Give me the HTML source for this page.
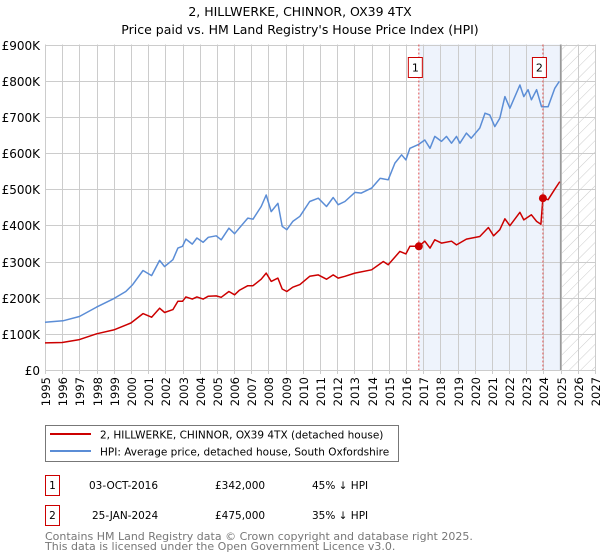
<!DOCTYPE html>
<html><head><meta charset="utf-8">
<style>
body{margin:0;background:#fff;font-family:"Liberation Sans","DejaVu Sans",sans-serif;}
svg{display:block}
</style></head>
<body>
<svg id="chart" width="600" height="560" font-family="DejaVu Sans, Liberation Sans, sans-serif">
  <text x="300" y="16" text-anchor="middle" font-size="12.5" fill="#000">2, HILLWERKE, CHINNOR, OX39 4TX</text>
  <text x="300" y="34" text-anchor="middle" font-size="12.5" fill="#000">Price paid vs. HM Land Registry's House Price Index (HPI)</text>
  <defs>
    <pattern id="hatch" width="8" height="8" patternUnits="userSpaceOnUse" patternTransform="rotate(45)">
      <line x1="0" y1="0" x2="0" y2="8" stroke="#ccc" stroke-width="1"/>
    </pattern>
  </defs>
  <g id="grid"></g>
  <g id="marks"></g>
  <g id="axes"></g>
  <g>
    <rect x="45.5" y="425.5" width="353" height="36" fill="#fff" stroke="#777"/>
    <line x1="50" y1="434" x2="91" y2="434" stroke="#cc0000" stroke-width="2"/>
    <text x="100" y="438.5" font-size="10.5">2, HILLWERKE, CHINNOR, OX39 4TX (detached house)</text>
    <line x1="50" y1="451" x2="91" y2="451" stroke="#5b8dd6" stroke-width="2"/>
    <text x="100" y="455.5" font-size="10.5">HPI: Average price, detached house, South Oxfordshire</text>
  </g>
  <g font-size="10.5">
    <rect x="45.5" y="475.5" width="14" height="20" fill="#fff" stroke="#cc0000"/>
    <text x="52.5" y="489" text-anchor="middle">1</text>
    <text x="89" y="489">03-OCT-2016</text>
    <text x="215" y="489">£342,000</text>
    <text x="312" y="489">45% ↓ HPI</text>
    <rect x="45.5" y="505.5" width="14" height="20" fill="#fff" stroke="#cc0000"/>
    <text x="52.5" y="519" text-anchor="middle">2</text>
    <text x="92" y="519">25-JAN-2024</text>
    <text x="215" y="519">£475,000</text>
    <text x="312" y="519">35% ↓ HPI</text>
  </g>
  <text x="45" y="540" font-size="11" fill="#777">Contains HM Land Registry data © Crown copyright and database right 2025.</text>
  <text x="45" y="550" font-size="11" fill="#777">This data is licensed under the Open Government Licence v3.0.</text>
</svg>
<script>
const hpiYears=[1995.0,1996.05,1997.0,1998.0,1998.95,1999.7,2000.1,2000.7,2001.2,2001.67,2001.96,2002.44,2002.73,2003.0,2003.2,2003.57,2003.84,2004.2,2004.5,2004.96,2005.25,2005.7,2006.03,2006.3,2006.8,2007.1,2007.58,2007.87,2008.16,2008.55,2008.8,2009.07,2009.42,2009.83,2010.4,2010.9,2011.38,2011.77,2012.06,2012.45,2013.03,2013.4,2014.0,2014.5,2014.97,2015.36,2015.75,2016.0,2016.23,2016.71,2017.1,2017.4,2017.68,2018.07,2018.36,2018.65,2018.94,2019.14,2019.52,2019.8,2020.3,2020.6,2020.88,2021.17,2021.46,2021.76,2022.05,2022.63,2022.86,2023.11,2023.3,2023.6,2023.89,2024.27,2024.66,2024.92];
const hpiValues=[132,136,148,174,196,217,236,275,261,303,286,305,337,342,362,348,365,353,367,371,360,392,377,392,420,417,452,484,438,461,397,388,411,425,466,475,452,477,457,466,491,489,503,530,526,572,595,581,613,623,636,613,646,632,646,627,646,627,655,641,669,710,705,673,696,756,724,788,756,775,747,775,728,728,779,798];
const propYears=[1995.0,1996.0,1997.0,1998.0,1999.0,2000.0,2000.7,2001.2,2001.67,2001.96,2002.44,2002.73,2003.0,2003.2,2003.57,2003.84,2004.2,2004.5,2004.96,2005.25,2005.7,2006.03,2006.3,2006.8,2007.1,2007.58,2007.87,2008.16,2008.55,2008.8,2009.07,2009.42,2009.83,2010.4,2010.9,2011.38,2011.77,2012.06,2012.45,2013.03,2014.0,2014.68,2014.97,2015.65,2016.0,2016.23,2016.75,2017.1,2017.4,2017.68,2018.07,2018.65,2018.94,2019.52,2020.3,2020.8,2021.1,2021.46,2021.76,2022.05,2022.63,2022.86,2023.3,2023.6,2023.85,2023.97,2024.27,2024.66,2024.95];
const propValues=[75,76,84,100,111,130,156,146,171,159,167,190,190,202,196,202,196,204,205,201,217,208,220,233,233,251,268,245,254,224,217,229,236,259,263,251,263,254,259,268,277,300,291,328,321,342,342,356,337,360,351,356,346,362,369,394,371,388,418,399,436,415,429,411,403,475,471,500,521];
const saleYears=[2016.75,2023.97];
const saleValues=[342,475];
const saleLabels=["1","2"];
const yTicks=[0,100,200,300,400,500,600,700,800,900];
const yTickLabels=["£0","£100K","£200K","£300K","£400K","£500K","£600K","£700K","£800K","£900K"];
const xTickYears=[1995,1996,1997,1998,1999,2000,2001,2002,2003,2004,2005,2006,2007,2008,2009,2010,2011,2012,2013,2014,2015,2016,2017,2018,2019,2020,2021,2022,2023,2024,2025,2026,2027];

const X0=45,X1=595,Y0=370,Y1=44.5;
const xs=y=>X0+(y-1995)/(2027-1995)*(X1-X0);
const ys=v=>Y0-v/900*(Y0-Y1);
const NS="http://www.w3.org/2000/svg";
function mk(tag,attrs,parent){const e=document.createElementNS(NS,tag);for(const k in attrs)e.setAttribute(k,attrs[k]);parent.appendChild(e);return e;}
const grid=document.getElementById('grid'),marks=document.getElementById('marks'),axes=document.getElementById('axes');

const sh=mk('rect',{x:xs(saleYears[0]),y:Y1,width:xs(2025)-xs(saleYears[0]),height:Y0-Y1,fill:'#eef3fc'},grid);


const ht=mk('rect',{x:xs(2025),y:Y1,width:X1-xs(2025),height:Y0-Y1,fill:'url(#hatch)'},grid);



yTicks.forEach((v,i)=>{
  const y=Math.round(ys(v))+0.5;
  const l=mk('line',{x1:X0,x2:X1,y1:y,y2:y,stroke:'#ccc','stroke-width':1},grid);
  
  
  const t=mk('text',{x:40,y:y+4.5,'text-anchor':'end','font-size':12,fill:'#000'},axes);
  t.textContent=yTickLabels[i];
  
  
});
xTickYears.forEach(yr=>{
  const x=Math.round(xs(yr))+0.5;
  const l=mk('line',{x1:x,x2:x,y1:Y1,y2:Y0+4,stroke:'#ccc','stroke-width':1},grid);
  
  
  const t=mk('text',{x:0,y:0,'text-anchor':'end','font-size':11.5,fill:'#000',transform:`translate(${x+4.5},${Y0+7}) rotate(-90)`},axes);
  t.textContent=yr;
  
  
});
const nl=mk('line',{x1:xs(2025),x2:xs(2025),y1:Y1,y2:Y0,stroke:'#999','stroke-width':1.5},grid);



function path(xsArr,vsArr){return xsArr.map((y,i)=>(i?'L':'M')+xs(y).toFixed(1)+','+ys(vsArr[i]).toFixed(1)).join('');}
const hp=mk('path',{d:path(hpiYears,hpiValues),fill:'none',stroke:'#5b8dd6','stroke-width':1.5,'stroke-linejoin':'round'},marks);


const pp=mk('path',{d:path(propYears,propValues),fill:'none',stroke:'#cc0000','stroke-width':1.5,'stroke-linejoin':'round'},marks);



saleYears.forEach((yr,i)=>{
  const x=xs(yr);
  const vl=mk('line',{x1:x,x2:x,y1:Y1,y2:Y0,stroke:'#e05050','stroke-width':1,'stroke-dasharray':'2,2'},marks);
  
  
  const c=mk('circle',{cx:x,cy:ys(saleValues[i]),r:4,fill:'#cc0000'},marks);
  
  
  const b=mk('rect',{x:x-10.5,y:57.5,width:14,height:20,fill:'#fff',stroke:'#cc0000'},marks);
  
  
  const t=mk('text',{x:x-3.5,y:71.5,'text-anchor':'middle','font-size':11},marks);
  t.textContent=saleLabels[i];
  
  
});
</script>
</body></html>
